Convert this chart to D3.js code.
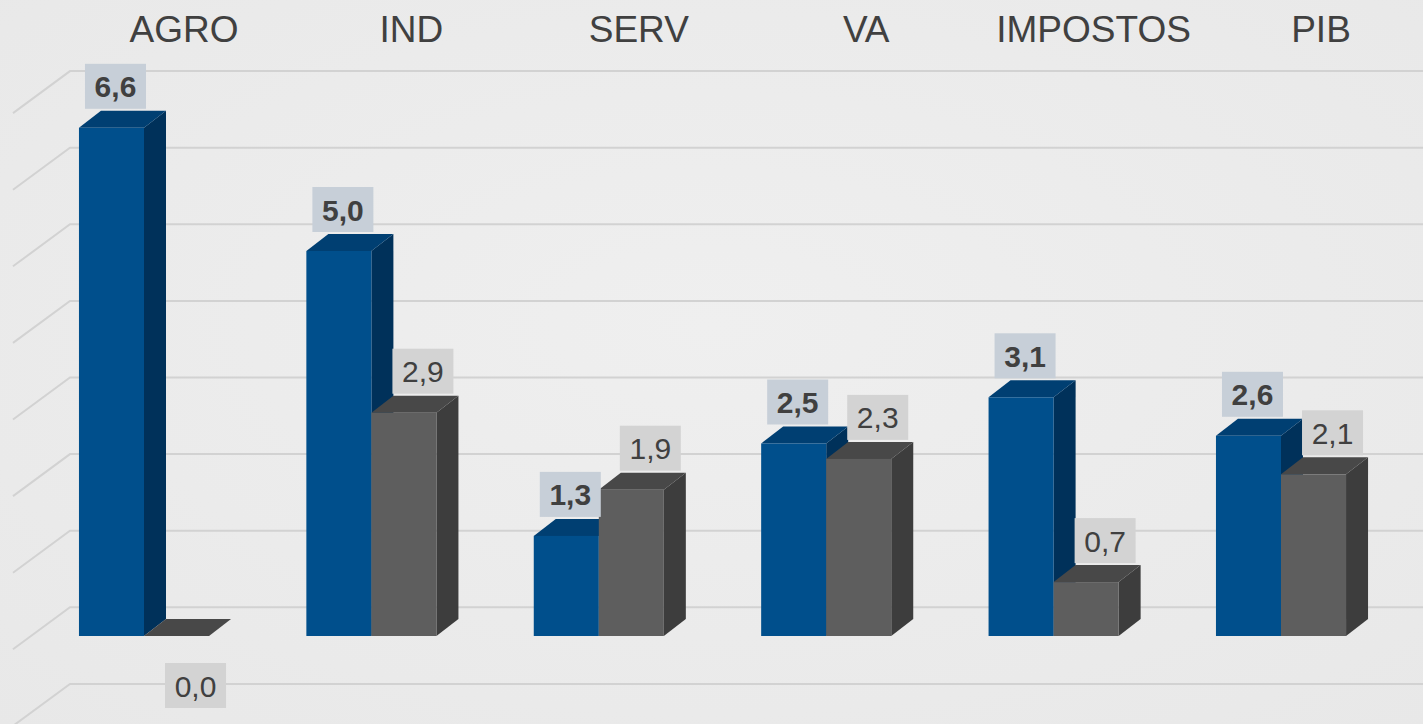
<!DOCTYPE html>
<html>
<head>
<meta charset="utf-8">
<script src="https://cdn.jsdelivr.net/npm/d3@7"></script>
<style>
  html, body { margin: 0; padding: 0; background: #ececec; overflow: hidden; }
  svg { display: block; font-family: "Liberation Sans", Arial, sans-serif; }
</style>
</head>
<body>
<svg id="chart"></svg>
<script>
  /***** Data *****/
  var categories = ["AGRO", "IND", "SERV", "VA", "IMPOSTOS", "PIB"];
  var seriesKeys = ["s1", "s2"];
  var series1 = [6.6, 5.0, 1.3, 2.5, 3.1, 2.6];
  var series2 = [0.0, 2.9, 1.9, 2.3, 0.7, 2.1];

  /***** Configuration *****/
  var width = 1423, height = 724;
  var depth = {dx: 22, dy: -17};        // bar depth offset
  var wallDepth = {dx: -57, dy: 42};    // grid floor/wall diagonal
  var wallX = 70;
  var fmt = function (v) { return d3.format(".1f")(v).replace(".", ","); };

  var colors = {
    s1: {front: "#004f8c", side: "#00315a", top: "#003f72", box: "#c7cfd8", weight: "bold", offset: 4},
    s2: {front: "#5e5e5e", side: "#3d3d3d", top: "#484848", box: "#d3d3d3", weight: "normal", offset: 19}
  };

  /***** Scales *****/
  var x = d3.scaleBand().domain(categories).range([30.3, 1394.7])
    .paddingInner(0.428).paddingOuter(0.214);
  var xs = d3.scaleBand().domain(seriesKeys).range([0, x.bandwidth()]);
  var y = d3.scaleLinear().domain([0, 7]).range([636, 97]);
  var yGrid = d3.scaleLinear().domain([-1, 7]).range([683.9, 71.1]);

  var svg = d3.select("#chart").attr("width", width).attr("height", height);

  /***** Background *****/
  var defs = svg.append("defs");
  var grad = defs.append("radialGradient").attr("id", "bg").attr("cx", "50%").attr("cy", "45%").attr("r", "75%");
  grad.append("stop").attr("offset", "0%").attr("stop-color", "#efefef");
  grad.append("stop").attr("offset", "100%").attr("stop-color", "#e8e8e8");
  svg.append("rect").attr("width", width).attr("height", height).attr("fill", "url(#bg)");

  /***** Gridlines *****/
  var grid = svg.append("g").attr("class", "grid");
  var ticks = yGrid.ticks(8);
  grid.selectAll("path").data(ticks).enter().append("path")
    .attr("d", function (t) {
      var gy = yGrid(t);
      return "M" + (wallX + wallDepth.dx) + "," + (gy + wallDepth.dy) + "L" + wallX + "," + gy + "L" + width + "," + gy;
    })
    .attr("fill", "none")
    .attr("stroke", "#d2d2d2")
    .attr("stroke-width", 2);

  /***** Category titles *****/
  svg.append("g").selectAll("text").data(categories).enter().append("text")
    .attr("x", function (c) { return x(c) + x.bandwidth() / 2 + 40; })
    .attr("y", 42)
    .attr("text-anchor", "middle")
    .attr("font-size", 37)
    .attr("fill", "#404040")
    .text(function (c) { return c; });

  /***** Bars *****/
  var rows = [];
  categories.forEach(function (c, i) {
    rows.push({cat: c, key: "s1", value: series1[i]});
    rows.push({cat: c, key: "s2", value: series2[i]});
  });

  var bars = svg.append("g").attr("class", "bars");
  var bar = bars.selectAll("g").data(rows).enter().append("g");

  function x0(d) { return x(d.cat) + xs(d.key); }

  // right side face
  bar.append("path")
    .attr("d", function (d) {
      var x1 = x0(d) + xs.bandwidth(), yt = y(d.value), yb = y(0);
      return "M" + x1 + "," + yb + "L" + x1 + "," + yt +
        "L" + (x1 + depth.dx) + "," + (yt + depth.dy) +
        "L" + (x1 + depth.dx) + "," + (yb + depth.dy) + "Z";
    })
    .attr("fill", function (d) { return colors[d.key].side; });

  // top face
  bar.append("path")
    .attr("d", function (d) {
      var xa = x0(d), xb = xa + xs.bandwidth(), yt = y(d.value);
      return "M" + xa + "," + yt + "L" + xb + "," + yt +
        "L" + (xb + depth.dx) + "," + (yt + depth.dy) +
        "L" + (xa + depth.dx) + "," + (yt + depth.dy) + "Z";
    })
    .attr("fill", function (d) { return colors[d.key].top; });

  // front face
  bar.append("rect")
    .attr("x", x0)
    .attr("y", function (d) { return y(d.value); })
    .attr("width", xs.bandwidth())
    .attr("height", function (d) { return y(0) - y(d.value); })
    .attr("fill", function (d) { return colors[d.key].front; });

  /***** Data labels *****/
  var boxW = 61, boxH = 45;
  var labels = svg.append("g").selectAll("g").data(rows).enter().append("g")
    .attr("transform", function (d) {
      var cx = x0(d) + xs.bandwidth() / 2 + colors[d.key].offset;
      var top = d.value > 0 ? y(d.value) + depth.dy - 2 - boxH : y(0) + 27;
      return "translate(" + (cx - boxW / 2) + "," + top + ")";
    });

  labels.append("rect")
    .attr("width", boxW)
    .attr("height", boxH)
    .attr("fill", function (d) { return colors[d.key].box; });

  labels.append("text")
    .attr("x", boxW / 2)
    .attr("y", boxH / 2 + 11)
    .attr("text-anchor", "middle")
    .attr("font-size", 30)
    .attr("font-weight", function (d) { return colors[d.key].weight; })
    .attr("fill", "#404040")
    .text(function (d) { return fmt(d.value); });
</script>
</body>
</html>
